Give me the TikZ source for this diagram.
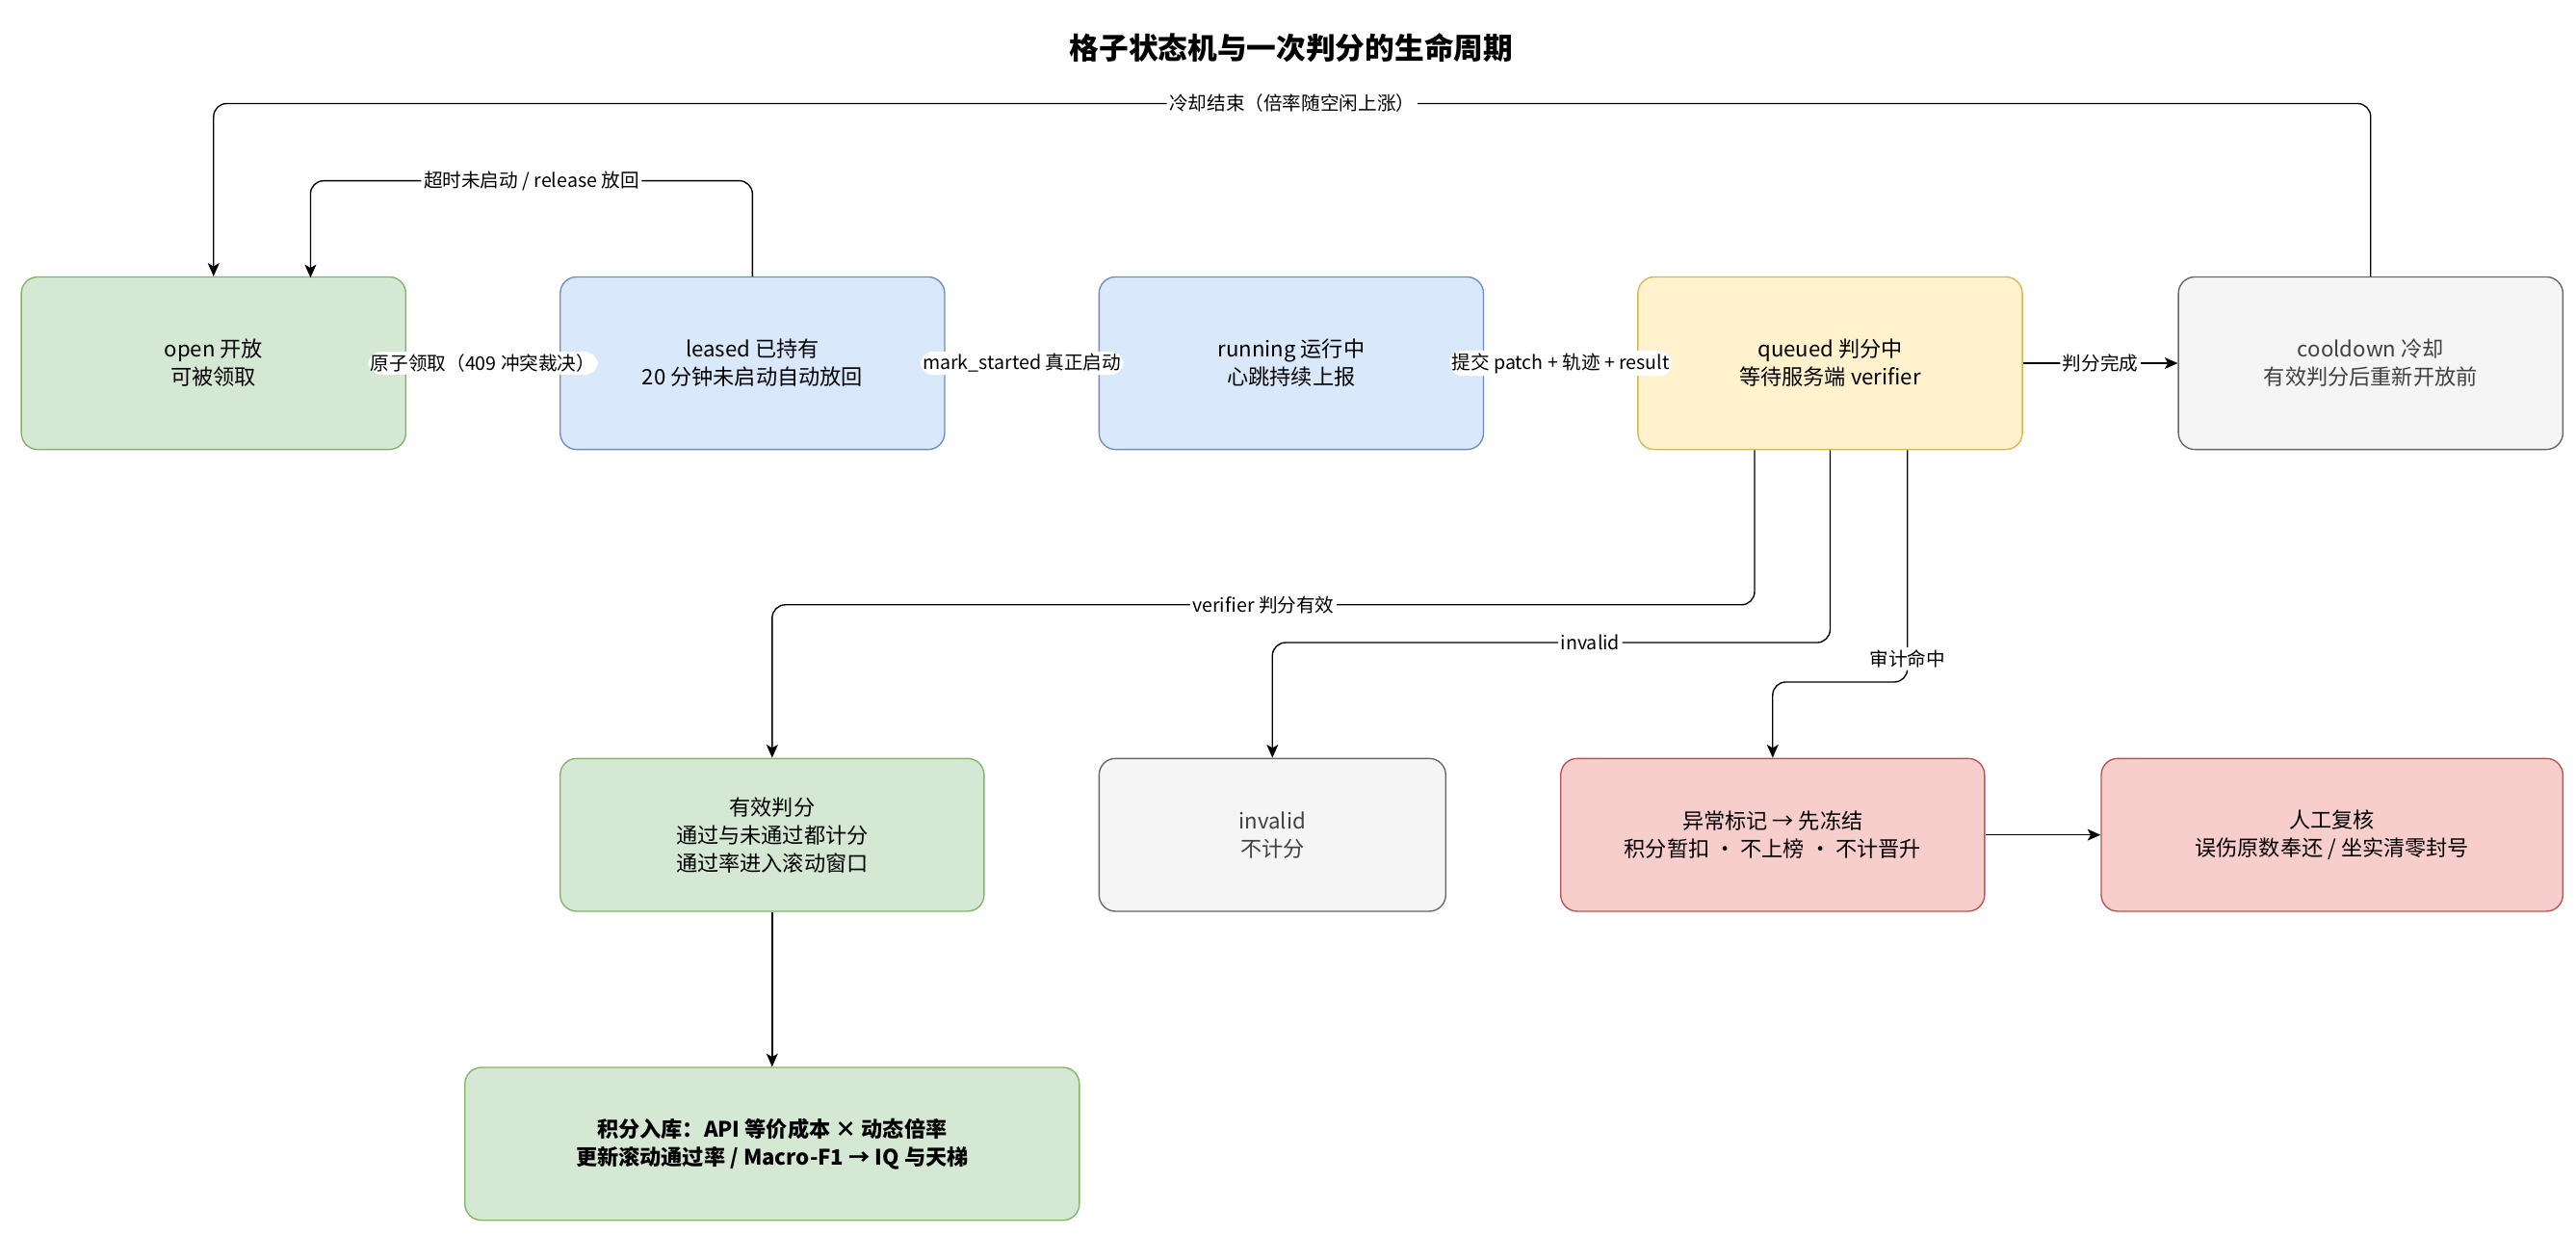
\documentclass[tikz,border=0pt]{standalone}
\usepackage{fontspec}
\setmainfont{Noto Sans CJK SC}
\usetikzlibrary{arrows.meta}
\definecolor{gF}{HTML}{D5E8D4}\definecolor{gD}{HTML}{82B366}
\definecolor{bF}{HTML}{DAE8FC}\definecolor{bD}{HTML}{6C8EBF}
\definecolor{yF}{HTML}{FFF2CC}\definecolor{yD}{HTML}{D6B656}
\definecolor{kF}{HTML}{F5F5F5}\definecolor{kD}{HTML}{666666}
\definecolor{rF}{HTML}{F8CECC}\definecolor{rD}{HTML}{B85450}
\begin{document}
\begin{tikzpicture}[x=1pt,y=-1pt,
  box/.style={draw,rounded corners=10pt,line width=0.8pt,align=center,inner sep=0pt,font=\fontsize{13}{17}\selectfont},
  s/.style={minimum width=234pt,minimum height=105pt},
  m/.style={minimum height=93pt},
  lab/.style={fill=white,inner sep=1.5pt,font=\fontsize{11.5}{14}\selectfont},
  e/.style={draw,line width=0.8pt,rounded corners=8pt,-{Stealth[length=8pt,width=7pt,inset=2pt]}}]
\useasboundingbox (0,0) rectangle (1568,751);
\node[font=\fontsize{18}{22}\selectfont\bfseries] (title) at (786,29) {格子状态机与一次判分的生命周期};
\node[box,s,fill=gF,draw=gD] (open) at (130,221) {open 开放\\可被领取};
\node[box,s,fill=bF,draw=bD] (leased) at (458,221) {leased 已持有\\20 分钟未启动自动放回};
\node[box,s,fill=bF,draw=bD] (running) at (786,221) {running 运行中\\心跳持续上报};
\node[box,s,fill=yF,draw=yD] (queued) at (1114,221) {queued 判分中\\等待服务端 verifier};
\node[box,s,fill=kF,draw=kD,text=black!75] (cool) at (1443,221) {cooldown 冷却\\有效判分后重新开放前};
\node[box,m,minimum width=258pt,fill=gF,draw=gD] (valid) at (470,508) {有效判分\\通过与未通过都计分\\通过率进入滚动窗口};
\node[box,m,minimum width=211pt,fill=kF,draw=kD,text=black!75] (inv) at (774.5,508) {invalid\\不计分};
\node[box,m,minimum width=258pt,fill=rF,draw=rD] (anom) at (1079,508) {异常标记 → 先冻结\\积分暂扣 · 不上榜 · 不计晋升};
\node[box,m,minimum width=281pt,fill=rF,draw=rD] (rev) at (1419.5,508) {人工复核\\误伤原数奉还 / 坐实清零封号};
\node[box,m,minimum width=374pt,fill=gF,draw=gD,font=\fontsize{13}{17}\selectfont\bfseries] (score) at (470,696) {积分入库：API 等价成本 × 动态倍率\\更新滚动通过率 / Macro-F1 → IQ 与天梯};
\draw[e] (open) -- node[lab]{原子领取（409 冲突裁决）} (leased);
\draw[e] (leased) -- node[lab]{mark\_started 真正启动} (running);
\draw[e] (running) -- node[lab]{提交 patch + 轨迹 + result} (queued);
\draw[e] (queued) -- node[lab]{判分完成} (cool);
\coordinate (c1) at (1443,63); \coordinate (c2) at (130,63);
\draw[e] (cool.north) -- (c1) -- node[lab,pos=0.5]{冷却结束（倍率随空闲上涨）} (c2) -- (open.north);
\coordinate (l1) at (458,110); \coordinate (l2) at (189,110); \coordinate (l3) at (189,169);
\draw[e] (leased.north) -- (l1) -- node[lab]{超时未启动 / release 放回} (l2) -- (l3);
\coordinate (q1) at (1068,274); \coordinate (q2) at (1068,368); \coordinate (q3) at (470,368);
\draw[e] (q1) -- (q2) -- node[lab]{verifier 判分有效} (q3) -- (valid.north);
\coordinate (i1) at (1114,274); \coordinate (i2) at (1114,391); \coordinate (i3) at (774.5,391);
\draw[e] (i1) -- (i2) -- node[lab,pos=0.43]{invalid} (i3) -- (inv.north);
\coordinate (a1) at (1161,274); \coordinate (a2) at (1161,415); \coordinate (a3) at (1079,415);
\draw[e] (a1) -- node[lab,pos=0.9]{审计命中} (a2) -- (a3) -- (anom.north);
\draw[e] (anom) -- (rev);
\draw[e] (valid) -- (score);
\end{tikzpicture}
\end{document}
